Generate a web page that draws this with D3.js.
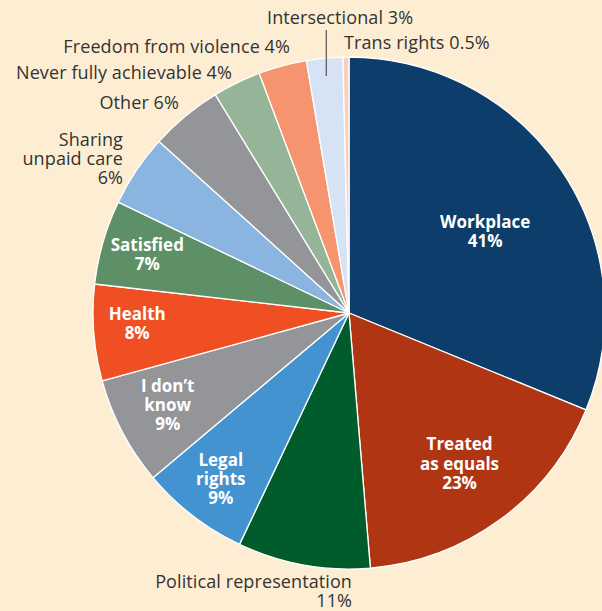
<!DOCTYPE html>
<html>
<head>
<meta charset="utf-8">
<script src="https://cdn.jsdelivr.net/npm/d3@7"></script>
<style>
  html, body { margin: 0; padding: 0; background: #FDEED3; }
  svg { display: block; }
  text { font-family: "Open Sans", "Noto Sans", sans-serif; }
</style>
</head>
<body>
<svg id="chart" width="602" height="611"></svg>
<script>
// Survey answers (respondents could pick several, so shares sum above 100)
const categories = [
  "Workplace", "Treated as equals", "Political representation", "Legal rights",
  "I don’t know", "Health", "Satisfied", "Sharing unpaid care", "Other",
  "Never fully achievable", "Freedom from violence", "Intersectional", "Trans rights"
];
const shares = [41, 23, 11, 9, 9, 8, 7, 6, 6, 4, 4, 3, 0.5];
const valueLabels = ["41%", "23%", "11%", "9%", "9%", "8%", "7%", "6%", "6%", "4%", "4%", "3%", "0.5%"];
const colors = [
  "#0D3E6B", "#B03513", "#005C2B", "#4393D0", "#939598", "#F04F23", "#5D9066",
  "#8AB5E1", "#939598", "#96B598", "#F69470", "#D5E3F4", "#F9D0BF"
];

const width = 602, height = 611;
const cx = 349, cy = 313, R = 256;

const svg = d3.select("#chart");
const g = svg.append("g").attr("transform", `translate(${cx},${cy})`);

const data = categories.map((c, i) => ({ name: c, value: shares[i], label: valueLabels[i], color: colors[i] }));

const pie = d3.pie().sort(null).value(d => d.value);
const arc = d3.arc().innerRadius(0).outerRadius(R);
const arcs = pie(data);

g.selectAll("path.slice")
  .data(arcs)
  .join("path")
  .attr("class", "slice")
  .attr("d", arc)
  .attr("fill", d => d.data.color)
  .attr("stroke", "#ffffff")
  .attr("stroke-width", 1.3)
  .attr("stroke-linejoin", "round");

// Labels printed inside their slices (white, bold), placed along the slice bisector
const inside = {
  "Workplace":         { lines: ["Workplace"], k: 0.57, dx: 15, dy: 0 },
  "Treated as equals": { lines: ["Treated", "as equals"], k: 0.73, dx: 0, dy: 0 },
  "Legal rights":      { lines: ["Legal", "rights"], k: 0.82, dx: 0, dy: 0 },
  "I don’t know":      { lines: ["I don’t", "know"], k: 0.80, dx: 0, dy: -3 },
  "Health":            { lines: ["Health"], k: 0.83, dx: 0, dy: -6 },
  "Satisfied":         { lines: ["Satisfied"], k: 0.82, dx: 0, dy: 0 }
};
const lineH = 19.2;

arcs.forEach(a => {
  const spec = inside[a.data.name];
  if (!spec) return;
  const mid = (a.startAngle + a.endAngle) / 2;
  const r = R * spec.k;
  const x = Math.sin(mid) * r + spec.dx, y = -Math.cos(mid) * r + spec.dy;
  const lines = spec.lines.concat([a.data.label]);
  const t = g.append("text")
    .attr("text-anchor", "middle")
    .attr("fill", "#ffffff")
    .attr("font-weight", 700)
    .attr("font-size", 17);
  lines.forEach((ln, i) => {
    t.append("tspan")
      .attr("x", x)
      .attr("y", y + (i - (lines.length - 1) / 2) * lineH + 6)
      .text(ln);
  });
});

// Labels set outside the pie (dark text)
const outside = {
  "Political representation": { x: 352, y: 588, anchor: "end", lines: ["Political representation"], valueLine: true },
  "Sharing unpaid care":      { x: 123, y: 146, anchor: "end", lines: ["Sharing", "unpaid care"], valueLine: true },
  "Other":                    { x: 179, y: 109, anchor: "end", lines: [], valueLine: false },
  "Never fully achievable":   { x: 232, y: 79,  anchor: "end", lines: [], valueLine: false },
  "Freedom from violence":    { x: 290, y: 53,  anchor: "end", lines: [], valueLine: false },
  "Intersectional":           { x: 267, y: 24,  anchor: "start", lines: [], valueLine: false },
  "Trans rights":             { x: 344, y: 49,  anchor: "start", lines: [], valueLine: false }
};

arcs.forEach(a => {
  const spec = outside[a.data.name];
  if (!spec) return;
  const lines = spec.valueLine ? spec.lines.concat([a.data.label]) : [a.data.name + " " + a.data.label];
  const t = svg.append("text")
    .attr("text-anchor", spec.anchor)
    .attr("fill", "#333333")
    .attr("font-size", 18)
    .attr("letter-spacing", 0.1);
  lines.forEach((ln, i) => {
    t.append("tspan").attr("x", spec.x).attr("y", spec.y + i * 18.8).text(ln);
  });
});

// Leader line from the Intersectional label down into its slice
const inter = arcs.find(a => a.data.name === "Intersectional");
const interMid = (inter.startAngle + inter.endAngle) / 2;
const lx = cx + Math.sin(interMid) * (R - 18);
svg.append("line")
  .attr("x1", lx).attr("x2", lx)
  .attr("y1", 30).attr("y2", cy - Math.cos(interMid) * (R - 18))
  .attr("stroke", "#555555")
  .attr("stroke-width", 1.2);
</script>
</body>
</html>
